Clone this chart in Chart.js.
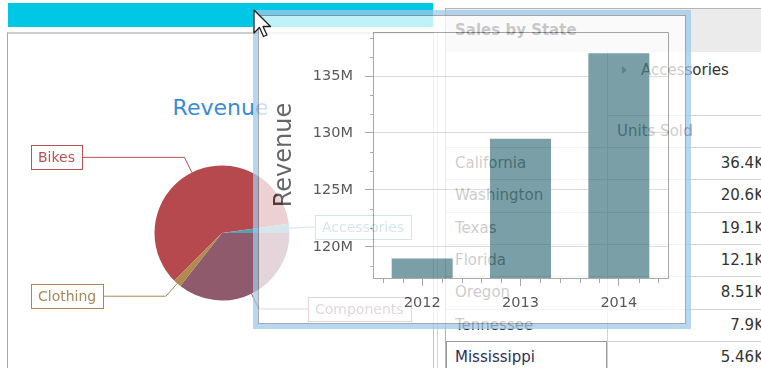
<!DOCTYPE html>
<html>
<head>
<meta charset="utf-8">
<title>Revenue dashboard</title>
<script src="https://cdn.jsdelivr.net/npm/chart.js@4/dist/chart.umd.min.js"></script>
<style>
  html, body { margin: 0; padding: 0; width: 761px; height: 368px; overflow: hidden; background: #fff;
    font-family: "DejaVu Sans", sans-serif; }
  .abs { position: absolute; }
  .txt { position: absolute; white-space: nowrap; }
  #dropBar { left: 8px; top: 3px; width: 425px; height: 24px; background: #00c8e4; }
  #pieTile { left: 7px; top: 32px; width: 427px; height: 345px; box-sizing: border-box;
    border-left: 1px solid #a8a8a8; border-top: 2px solid #cfcfcf; border-right: 1px solid #c4c4c4; }
  #tileGap { left: 437px; top: 32px; width: 1px; height: 336px; background: #d4d4d4; }
  #pieTitle { left: 8px; top: 95px; width: 425px; height: 26px; line-height: 26px; text-align: center;
    font-size: 22px; color: #3a8bd6; }
  #pieCanvas { left: 8px; top: 33px; }
  #gridTile { left: 445px; top: 8px; width: 330px; height: 370px; box-sizing: border-box;
    border-left: 1px solid #b4b4b4; border-top: 1px solid #b4b4b4; }
  #gridHead { left: 446px; top: 9px; width: 320px; height: 43px; background: #ebebeb; }
  #gridCaption { left: 455px; top: 19px; height: 22px; line-height: 22px; font-size: 15px; font-weight: bold; color: #222; }
  #colDivider { left: 607px; top: 52px; width: 1px; height: 320px; background: #d2d2d2; }
  #measureLine { left: 607px; top: 115px; width: 160px; height: 1px; background: #d2d2d2; }
  #expander { left: 622px; top: 66px; width: 0; height: 0; border-left: 5px solid #8a8a8a;
    border-top: 4px solid transparent; border-bottom: 4px solid transparent; }
  #colField { left: 641px; top: 59px; height: 22px; line-height: 22px; font-size: 15px; color: #333; }
  #measureName { left: 617px; top: 120px; height: 22px; line-height: 22px; font-size: 15px; color: #333; }
  .rowLine { position: absolute; left: 446px; width: 320px; height: 1px; background: #d2d2d2; }
  .rowHead { position: absolute; left: 455px; font-size: 15px; color: #333; white-space: nowrap; }
  .rowVal { position: absolute; left: 600px; width: 164px; text-align: right; font-size: 15px; color: #333; white-space: nowrap; }
  #focusCell { left: 446px; width: 161px; height: 40px; box-sizing: border-box; border: 1px solid #9a9a9a; }
  #dragPanel { left: 253px; top: 10px; width: 438px; height: 319px; box-sizing: border-box;
    border: 5px solid #9fc8ea; background: #fff; opacity: 0.75; }
  #dragInner { left: 0; top: 0; width: 428px; height: 309px; box-sizing: border-box; border: 1px solid #8c8c8c; }
  #barCanvas { left: 0; top: 0; }
  #cursor { left: 253px; top: 9px; }
</style>
</head>
<body>
<div id="dropBar" class="abs"></div>
<div id="pieTile" class="abs"></div>
<div id="tileGap" class="abs"></div>
<div id="pieTitle" class="txt">Revenue</div>
<canvas id="pieCanvas" class="abs" width="426" height="335"></canvas>

<div id="gridTile" class="abs"></div>
<div id="gridHead" class="abs"></div>
<div id="gridCaption" class="txt">Sales by State</div>
<div id="colDivider" class="abs"></div>
<div id="measureLine" class="abs"></div>
<div id="expander" class="abs"></div>
<div id="colField" class="txt">Accessories</div>
<div id="measureName" class="txt">Units Sold</div>
<div id="gridRows"></div>

<div id="dragPanel" class="abs">
  <div id="dragInner" class="abs"></div>
  <canvas id="barCanvas" class="abs" width="428" height="309"></canvas>
</div>

<svg id="cursor" class="abs" width="24" height="32" viewBox="0 0 24 32">
  <polygon points="1,1 1,24 6.5,18.5 10.5,27.5 14,26 10,17.5 17.5,17.5" fill="#fff" stroke="#1e1e1e" stroke-width="1.3" stroke-linejoin="round"/>
</svg>

<script>
// Revenue share by product category (pie)
const categories = ['Bikes', 'Accessories', 'Components', 'Clothing'];
const categoryRevenue = [60.3, 2.2, 35.6, 1.9];
const sliceColors = ['#b5494d', '#5a9fae', '#8f5a6b', '#b08a4e'];
const labelColors = ['#bb5155', '#4f97b0', '#8f5a6b', '#a8875a'];

// Yearly revenue, millions (bar)
const years = ['2012', '2013', '2014'];
const yearRevenue = [119.0, 129.5, 137.0];
const revenueTicks = [120, 125, 130, 135];
const revenueMin = 117.28;
const revenueMax = 138.86;
const revenueStep = 5;

// Units sold by state (pivot grid)
const states = ['California', 'Washington', 'Texas', 'Florida', 'Oregon', 'Tennessee', 'Mississippi'];
const unitsSold = ['36.4K', '20.6K', '19.1K', '12.1K', '8.51K', '7.9K', '5.46K'];

Chart.defaults.font.family = '"DejaVu Sans", sans-serif';
Chart.defaults.animation = false;

// ---- pivot grid rows ----
(function buildRows() {
  const host = document.getElementById('gridRows');
  const top0 = 147, rowH = 32.33;
  states.forEach((s, i) => {
    const top = top0 + i * rowH;
    const line = document.createElement('div');
    line.className = 'rowLine';
    line.style.top = Math.round(top) + 'px';
    host.appendChild(line);
    const head = document.createElement('div');
    head.className = 'rowHead';
    head.style.top = Math.round(top) + 'px';
    head.style.height = head.style.lineHeight = Math.round(rowH) + 'px';
    head.textContent = s;
    host.appendChild(head);
    const val = document.createElement('div');
    val.className = 'rowVal';
    val.style.top = Math.round(top) + 'px';
    val.style.height = val.style.lineHeight = Math.round(rowH) + 'px';
    val.textContent = unitsSold[i];
    host.appendChild(val);
    if (i === states.length - 1) {
      head.style.color = '#2e2e58';
      const focus = document.createElement('div');
      focus.id = 'focusCell';
      focus.className = 'abs';
      focus.style.top = Math.round(top) + 'px';
      host.appendChild(focus);
    }
  });
})();

// ---- pie with boxed callout labels ----
const calloutLabels = {
  id: 'calloutLabels',
  afterDatasetsDraw(chart) {
    const ctx = chart.ctx;
    const meta = chart.getDatasetMeta(0);
    ctx.save();
    ctx.font = '14px "DejaVu Sans"';
    ctx.lineWidth = 1;
    meta.data.forEach((arc, i) => {
      const p = arc.getProps(['x', 'y', 'startAngle', 'endAngle', 'outerRadius'], true);
      const mid = (p.startAngle + p.endAngle) / 2;
      const c = Math.cos(mid), s = Math.sin(mid);
      const x0 = p.x + c * p.outerRadius, y0 = p.y + s * p.outerRadius;
      const x1 = p.x + c * (p.outerRadius + 17), y1 = p.y + s * (p.outerRadius + 17);
      const text = chart.data.labels[i];
      const bw = Math.round(ctx.measureText(text).width + 14), bh = 24;
      const onRight = c >= 0;
      const bx = Math.round(onRight ? p.x + 189 - bw : p.x - 191);
      const by = Math.round(y1 - bh / 2);
      const edge = onRight ? bx : bx + bw;
      ctx.strokeStyle = labelColors[i];
      ctx.beginPath();
      ctx.moveTo(x0, y0);
      ctx.lineTo(x1, y1);
      ctx.lineTo(edge, y1);
      ctx.stroke();
      ctx.fillStyle = '#fff';
      ctx.fillRect(bx, by, bw, bh);
      ctx.strokeRect(bx + 0.5, by + 0.5, bw, bh);
      ctx.fillStyle = labelColors[i];
      ctx.textAlign = 'left';
      ctx.textBaseline = 'middle';
      ctx.fillText(text, bx + 7, by + bh / 2 + 1);
    });
    ctx.restore();
  }
};

new Chart(document.getElementById('pieCanvas'), {
  type: 'pie',
  data: {
    labels: categories,
    datasets: [{ data: categoryRevenue, backgroundColor: sliceColors, borderWidth: 0, radius: 67.5 }]
  },
  options: {
    responsive: false,
    rotation: 225,
    layout: { padding: { left: 2, top: 65, right: 0, bottom: 0 } },
    plugins: { legend: { display: false }, tooltip: { enabled: false } }
  },
  plugins: [calloutLabels]
});

// ---- bar chart: plot frame and minor ticks ----
const plotDecor = {
  id: 'plotDecor',
  afterDraw(chart) {
    const { ctx, chartArea: a, scales: { x, y } } = chart;
    ctx.save();
    ctx.strokeStyle = '#8b8b8b';
    ctx.lineWidth = 1;
    ctx.beginPath();
    ctx.moveTo(a.left, Math.round(a.top) + 0.5);
    ctx.lineTo(Math.round(a.right) + 0.5, Math.round(a.top) + 0.5);
    ctx.lineTo(Math.round(a.right) + 0.5, a.bottom);
    const kLo = Math.ceil(y.min * 3 / revenueStep), kHi = Math.floor(y.max * 3 / revenueStep);
    for (let k = kLo; k <= kHi; k++) {
      if (k % 3 === 0) continue;
      const py = Math.round(y.getPixelForValue(k * revenueStep / 3)) + 0.5;
      ctx.moveTo(a.left - 3, py);
      ctx.lineTo(a.left, py);
    }
    const unit = x.getPixelForValue(1) - x.getPixelForValue(0);
    const first = x.getPixelForValue(0);
    for (let k = -2; k <= (years.length - 1) * 5 + 2; k++) {
      if (k % 5 === 0) continue;
      const px = Math.round(first + unit * k / 5) + 0.5;
      ctx.moveTo(px, a.bottom);
      ctx.lineTo(px, a.bottom + 5);
    }
    ctx.stroke();
    ctx.restore();
  }
};

// fixed axis boxes so the plot area sits where the layout wants it
const fixBox = (w, h) => s => {
  if (w !== null) s.width = w;
  if (h !== null) s.height = h;
  s.paddingTop = 0; s.paddingBottom = 0; s.paddingLeft = 0; s.paddingRight = 0;
};

new Chart(document.getElementById('barCanvas'), {
  type: 'bar',
  data: {
    labels: years,
    datasets: [{
      label: 'Revenue',
      data: yearRevenue,
      backgroundColor: '#4e7f88',
      barPercentage: 0.62,
      categoryPercentage: 1
    }]
  },
  options: {
    responsive: false,
    layout: { padding: { left: 0, right: 18, top: 17, bottom: 0 } },
    plugins: { legend: { display: false }, tooltip: { enabled: false } },
    scales: {
      x: {
        offset: true,
        grid: { offset: false, drawOnChartArea: false, tickColor: '#8b8b8b', tickLength: 8 },
        border: { color: '#8b8b8b' },
        ticks: { color: '#222', font: { size: 14.5 }, padding: 9, maxRotation: 0 },
        afterFit: fixBox(null, 46)
      },
      y: {
        min: revenueMin,
        max: revenueMax,
        afterBuildTicks: s => { s.ticks = revenueTicks.map(v => ({ value: v })); },
        afterFit: fixBox(115, null),
        grid: { color: '#d0d0d0', tickColor: '#8b8b8b', tickLength: 8 },
        border: { color: '#8b8b8b' },
        ticks: { color: '#222', font: { size: 14.5 }, padding: 12, callback: v => v + 'M' },
        title: { display: true, text: 'Revenue', color: '#333', font: { size: 24 }, padding: { top: 12, bottom: 0 } }
      }
    }
  },
  plugins: [plotDecor]
});
</script>
</body>
</html>
